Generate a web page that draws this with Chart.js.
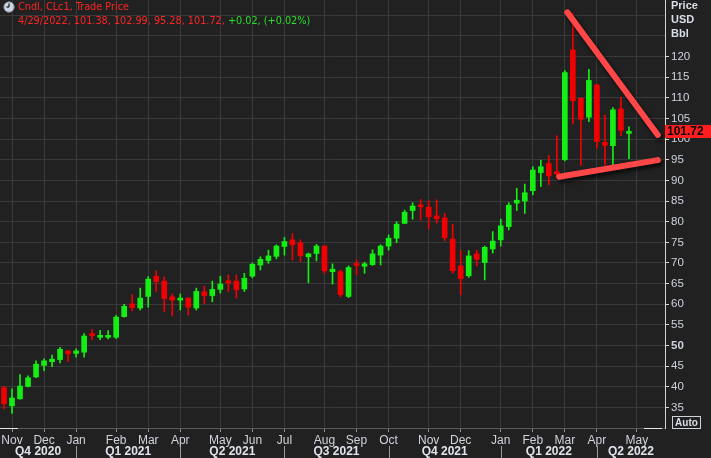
<!DOCTYPE html>
<html>
<head>
<meta charset="utf-8">
<script src="https://cdn.jsdelivr.net/npm/chart.js@4.4.1/dist/chart.umd.min.js"></script>
<style>
    html, body { margin:0; padding:0; background:#212121; }
    #wrap { position:relative; width:711px; height:458px; background:#212121; overflow:hidden; }
    #c { position:absolute; left:0; top:0; }
    .hdr { position:absolute; left:18px; font:9.7px "DejaVu Sans", sans-serif; color:#ff2424; white-space:nowrap; line-height:12px; }
    .hdr .up { color:#27e027; }
    .unit { position:absolute; left:671px; font:bold 11px "Liberation Sans", Arial, sans-serif; color:#d9dde6; line-height:12px; }
    #auto { position:absolute; left:672px; top:416px; width:27px; height:11px; border:1px solid #cfd3da; font:bold 10px "Liberation Sans", Arial, sans-serif; color:#d9dde6; line-height:11px; text-align:center; }
    #clock { position:absolute; left:3px; top:1px; }
</style>
</head>
<body>
<div id="wrap">
    <canvas id="c" width="711" height="458"></canvas>
    <svg id="clock" width="12" height="12" viewBox="0 0 12 12">
        <circle cx="6" cy="6" r="5.2" fill="#cdd6e4" stroke="#7d8899" stroke-width="1"/>
        <line x1="6" y1="6" x2="6" y2="2.6" stroke="#111" stroke-width="1.2"/>
        <line x1="6" y1="6" x2="3.4" y2="6" stroke="#111" stroke-width="1.2"/>
    </svg>
    <div class="hdr" style="top:1px">Cndl, CLc1, Trade Price</div>
    <div class="hdr" style="top:15px">4/29/2022, 101.38, 102.99, 95.28, 101.72, <span class="up">+0.02, (+0.02%)</span></div>
    <div class="unit" style="top:-1px">Price</div>
    <div class="unit" style="top:13px">USD</div>
    <div class="unit" style="top:27px">Bbl</div>
    <div id="auto">Auto</div>
</div>
<script>
// weekly candles, CLc1 (last 4 labels are empty future slots)
const WEEKS = [
    '2020-10-30','2020-11-06','2020-11-13','2020-11-20','2020-11-27','2020-12-04','2020-12-11','2020-12-18','2020-12-24','2020-12-31',
    '2021-01-08','2021-01-15','2021-01-22','2021-01-29','2021-02-05','2021-02-12','2021-02-19','2021-02-26','2021-03-05','2021-03-12',
    '2021-03-19','2021-03-26','2021-04-01','2021-04-09','2021-04-16','2021-04-23','2021-04-30','2021-05-07','2021-05-14','2021-05-21',
    '2021-05-28','2021-06-04','2021-06-11','2021-06-18','2021-06-25','2021-07-02','2021-07-09','2021-07-16','2021-07-23','2021-07-30',
    '2021-08-06','2021-08-13','2021-08-20','2021-08-27','2021-09-03','2021-09-10','2021-09-17','2021-09-24','2021-10-01','2021-10-08',
    '2021-10-15','2021-10-22','2021-10-29','2021-11-05','2021-11-12','2021-11-19','2021-11-26','2021-12-03','2021-12-10','2021-12-17',
    '2021-12-23','2021-12-31','2022-01-07','2022-01-14','2022-01-21','2022-01-28','2022-02-04','2022-02-11','2022-02-18','2022-02-25',
    '2022-03-04','2022-03-11','2022-03-18','2022-03-25','2022-04-01','2022-04-08','2022-04-14','2022-04-22','2022-04-29',
    '2022-05-06','2022-05-13','2022-05-20','2022-05-27'
];
const OPEN = [
    39.8, 35.4, 37.1, 40.1, 42.4, 45.2, 46.1, 46.6, 48.7, 48.1,
    48.4, 52.6, 52.0, 52.0, 52.0, 57.0, 60.1, 59.1, 61.9, 66.8,
    65.6, 61.8, 61.0, 61.5, 59.1, 63.0, 62.1, 63.6, 65.6, 65.6,
    63.7, 66.8, 69.5, 70.6, 71.6, 74.0, 75.6, 74.9, 71.5, 72.3,
    74.1, 67.9, 67.9, 61.9, 69.6, 69.2, 69.6, 71.9, 74.1, 76.0,
    79.6, 82.7, 84.0, 83.5, 81.4, 80.9, 75.8, 69.3, 66.9, 72.2,
    70.1, 73.4, 75.6, 78.8, 84.5, 85.0, 87.5, 91.9, 94.1, 92.0,
    95.0, 121.6, 109.9, 105.3, 113.1, 99.2, 98.4, 107.3, 101.38
];
const HIGH = [
    40.2, 39.5, 43.0, 42.7, 46.3, 46.8, 47.7, 49.6, 48.8, 49.2,
    52.9, 53.9, 53.7, 53.6, 57.3, 60.0, 62.3, 63.9, 66.7, 68.1,
    66.6, 62.5, 62.5, 61.6, 63.9, 64.4, 65.6, 66.8, 67.1, 67.1,
    67.5, 70.0, 71.5, 73.1, 74.4, 76.2, 77.1, 75.6, 72.4, 74.5,
    74.2, 69.8, 68.3, 69.3, 70.7, 70.2, 73.2, 74.4, 76.8, 80.0,
    82.8, 84.6, 85.4, 85.1, 85.3, 82.0, 79.4, 73.1, 73.0, 73.1,
    74.1, 77.6, 80.6, 84.6, 88.1, 89.1, 93.3, 94.9, 96.1, 100.8,
    116.6, 130.5, 110.0, 116.9, 113.2, 105.8, 107.6, 110.1, 102.99
];
const LOW = [
    34.7, 33.6, 37.0, 40.0, 42.2, 43.9, 44.9, 45.8, 46.1, 47.2,
    47.2, 51.4, 51.4, 51.6, 51.7, 56.9, 58.4, 58.6, 59.3, 63.1,
    58.2, 57.2, 58.6, 57.4, 58.6, 60.2, 60.6, 62.7, 63.1, 61.5,
    63.1, 66.4, 68.3, 69.9, 71.0, 71.9, 70.7, 70.3, 65.2, 70.5,
    67.5, 64.9, 61.8, 61.6, 67.1, 67.5, 69.4, 69.5, 73.1, 74.9,
    79.5, 80.6, 80.4, 78.2, 79.6, 75.4, 67.5, 62.3, 66.5, 69.3,
    65.9, 72.4, 74.1, 78.0, 82.7, 82.0, 86.5, 88.5, 88.9, 90.9,
    94.7, 103.7, 93.6, 104.2, 97.8, 93.7, 93.7, 100.8, 95.28
];
const CLOSE = [
    35.9, 37.3, 40.2, 42.2, 45.5, 46.3, 46.7, 49.1, 48.0, 48.7,
    52.3, 52.4, 52.3, 52.2, 56.9, 59.5, 59.2, 61.5, 66.1, 65.5,
    61.4, 61.0, 61.5, 59.3, 63.1, 62.1, 63.6, 64.9, 65.2, 63.5,
    66.3, 69.7, 70.9, 71.7, 74.1, 75.2, 74.4, 71.8, 72.2, 74.1,
    68.1, 68.5, 62.3, 68.9, 69.4, 69.8, 72.2, 74.1, 76.0, 79.4,
    82.3, 83.8, 83.6, 81.2, 80.7, 76.1, 68.1, 66.2, 71.7, 70.9,
    73.8, 75.3, 79.0, 84.0, 85.2, 87.0, 92.5, 93.3, 91.1, 91.6,
    116.1, 109.3, 104.8, 114.2, 99.4, 98.5, 107.1, 102.1, 101.72
];
const MONTH_TICK_INDEX = [1, 5, 9, 14, 18, 22, 27, 31, 35, 40, 44, 48, 53, 57, 62, 66, 70, 74, 79];
const MONTH_TICK_LABEL = ['Nov','Dec','Jan','Feb','Mar','Apr','May','Jun','Jul','Aug','Sep','Oct','Nov','Dec','Jan','Feb','Mar','Apr','May'];
const QUARTER_LABELS = ['Q4 2020','Q1 2021','Q2 2021','Q3 2021','Q4 2021','Q1 2022','Q2 2022'];
const QUARTER_START_INDEX = [9, 22, 35, 48, 62, 74];
const Y_TICKS = [35, 40, 45, 50, 55, 60, 65, 70, 75, 80, 85, 90, 95, 100, 105, 110, 115, 120, 125, 130];
const Y_LABEL_MAX = 120;
// hand drawn triangle (x = week index)
const TREND_UPPER = [{x:70.3, y:130.7}, {x:81.6, y:101.0}];
const TREND_LOWER = [{x:69.3, y:90.9}, {x:81.6, y:94.9}];

const UP = '#14ee14', DOWN = '#f00000', GRID = '#393939';
const AXIS_FONT = '"Liberation Sans", Arial, sans-serif';
const LAST_CLOSE = CLOSE[CLOSE.length-1];

const candleColor = CLOSE.map((c,i)=> c >= OPEN[i] ? UP : DOWN);
const monthAt = (i)=>{ const k = MONTH_TICK_INDEX.indexOf(i); return k < 0 ? '' : MONTH_TICK_LABEL[k]; };

const overlay = {
    id: 'overlay',
    beforeDatasetDraw(chart, args){
        if (args.meta.type !== 'line') return;
        const ctx = chart.ctx;
        ctx.save();
        ctx.shadowColor = 'rgba(0,0,0,0.75)';
        ctx.shadowBlur = 4; ctx.shadowOffsetX = 2; ctx.shadowOffsetY = 3;
    },
    afterDatasetDraw(chart, args){
        if (args.meta.type === 'line') chart.ctx.restore();
    },
    afterDraw(chart){
        const ctx = chart.ctx, a = chart.chartArea, xs = chart.scales.x, ys = chart.scales.y;
        ctx.save();
        // little white scroll marks on the time axis
        ctx.strokeStyle = '#e6e6e6'; ctx.lineWidth = 1;
        ctx.beginPath(); ctx.moveTo(0, a.bottom+0.5); ctx.lineTo(18, a.bottom+0.5);
        ctx.moveTo(644, a.bottom+0.5); ctx.lineTo(a.right-3, a.bottom+0.5); ctx.stroke();

        // quarter row
        const edges = [a.left, ...QUARTER_START_INDEX.map(i => xs.getPixelForValue(i)), a.right];
        ctx.strokeStyle = '#9a9a9a';
        QUARTER_START_INDEX.forEach((_, k)=>{
            const x = Math.round(edges[k+1]) + 0.5;
            ctx.beginPath(); ctx.moveTo(x, 446); ctx.lineTo(x, 458); ctx.stroke();
        });
        ctx.fillStyle = '#dfe4ec';
        ctx.font = 'bold 12px ' + AXIS_FONT;
        ctx.textAlign = 'center'; ctx.textBaseline = 'middle';
        QUARTER_LABELS.forEach((q,k)=> ctx.fillText(q, (edges[k]+edges[k+1])/2, 452));

        // last price tag
        const y = ys.getPixelForValue(LAST_CLOSE);
        ctx.fillStyle = '#ff1e1e';
        ctx.fillRect(a.right, Math.round(y)-7, 711-a.right, 13);
        ctx.fillStyle = '#000';
        ctx.font = 'bold 12px ' + AXIS_FONT;
        ctx.textAlign = 'left';
        ctx.fillText(LAST_CLOSE.toFixed(2), a.right+2, Math.round(y));
        ctx.restore();
    }
};

new Chart(document.getElementById('c'), {
    type: 'bar',
    data: {
        labels: WEEKS,
        datasets: [
            { type:'line', xAxisID:'x2', data:TREND_UPPER, borderColor:'#ff4747', borderWidth:6, borderCapStyle:'round', pointRadius:0, order:0 },
            { type:'line', xAxisID:'x2', data:TREND_LOWER, borderColor:'#ff4747', borderWidth:6, borderCapStyle:'round', pointRadius:0, order:0 },
            { data: OPEN.map((o,i)=>[o, CLOSE[i]]), backgroundColor: candleColor, barThickness:5, minBarLength:2, grouped:false, order:1 },
            { data: LOW.map((l,i)=>[l, HIGH[i]]), backgroundColor: candleColor, barThickness:1, grouped:false, order:2 }
        ]
    },
    options: {
        responsive:false,
        animation:false,
        devicePixelRatio:1,
        layout:{ padding:0 },
        plugins:{ legend:{ display:false }, tooltip:{ enabled:false } },
        scales:{
            x:{
                type:'category',
                offset:true,
                afterFit:(s)=>{ s.height = 30; s.paddingLeft = 0; s.paddingRight = 0; },
                border:{ color:'#5a5a5a' },
                grid:{
                    offset:false,
                    color:(c)=> monthAt(c.index) ? GRID : 'rgba(0,0,0,0)',
                    tickColor:(c)=> monthAt(c.index) ? '#8c8c8c' : 'rgba(0,0,0,0)',
                    tickLength:4
                },
                ticks:{
                    autoSkip:false, maxRotation:0, minRotation:0, padding:1,
                    color:'#cfd3db',
                    font:{ family:AXIS_FONT, size:12 },
                    callback:(v,i)=> monthAt(i)
                }
            },
            x2:{ type:'linear', display:false, offset:false, grid:{ offset:false }, min:-0.5, max:WEEKS.length-0.5 },
            y:{
                type:'linear',
                position:'right',
                min:30.04, max:133.68,
                afterBuildTicks:(s)=>{ s.ticks = Y_TICKS.map(v=>({ value:v })); },
                afterFit:(s)=>{ s.width = 46; s.paddingTop = 0; s.paddingBottom = 0; },
                border:{ color:'#d4d4d4' },
                grid:{
                    color:GRID,
                    tickColor:(c)=> (c.tick && c.tick.value <= Y_LABEL_MAX) ? '#d4d4d4' : 'rgba(0,0,0,0)',
                    tickLength:4
                },
                ticks:{
                    padding:2,
                    color:'#cdd2dc',
                    font:(c)=>({ family:AXIS_FONT, size:11.5, weight:(c.tick && c.tick.value === 50) ? 'bold' : 'normal' }),
                    callback:(v)=> v <= Y_LABEL_MAX ? String(v) : ''
                }
            }
        }
    },
    plugins:[overlay]
});
</script>
</body>
</html>
